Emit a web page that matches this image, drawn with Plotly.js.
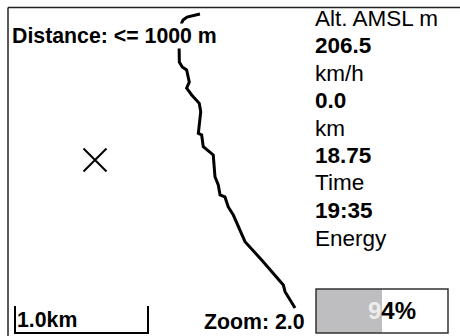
<!DOCTYPE html>
<html>
<head>
<meta charset="utf-8">
<script src="https://cdn.plot.ly/plotly-3.0.1.min.js"></script>
<style>html,body{margin:0;padding:0;background:#fff}#chart{width:460px;height:336px}</style>
</head>
<body>
<div id="chart"></div>
<script>
// Flight track, km east / km north relative to the X marker
const trackX = [0.789, 0.692, 0.662, 0.639, 0.632, 0.632, 0.634, 0.656, 0.689, 0.709, 0.689, 0.727, 0.765, 0.784, 0.795, 0.777, 0.802, 0.814, 0.889, 0.902, 0.927, 0.940, 0.977, 1.002, 1.040, 1.128, 1.253, 1.416, 1.429, 1.504];
const trackY = [1.098, 1.075, 1.053, 1.000, 0.902, 0.812, 0.737, 0.699, 0.677, 0.586, 0.541, 0.489, 0.451, 0.426, 0.363, 0.201, 0.188, 0.100, 0.038, -0.126, -0.188, -0.263, -0.278, -0.353, -0.414, -0.614, -0.752, -0.940, -0.990, -1.113];
const targetX = [0];
const targetY = [0];
const scaleBarKm = 1.0;
const scaleLabel = "1.0km";
const distanceLabel = "Distance: &lt;= 1000 m";
const zoomLabel = "Zoom: 2.0";
const infoLabels = ["Alt. AMSL m", "km/h", "km", "Time", "Energy"];
const infoValues = ["206.5", "0.0", "18.75", "19:35"];
const energyFill = [50];
const energyText = ["9", "4%"];

const W = 460, H = 336, PXKM = 133, OX = 95, OY = 160;
const kx = p => (p - OX) / PXKM;
const ky = p => (OY - p) / PXKM;
const px = p => p / W;
const py = p => 1 - p / H;

const sx0 = kx(15), sTop = ky(306), sBot = ky(333);

const traces = [
  {type: 'scatter', mode: 'lines', x: trackX, y: trackY,
   line: {color: '#000', width: 3}, hoverinfo: 'skip'},
  {type: 'scatter', mode: 'markers', x: targetX, y: targetY,
   marker: {symbol: 'x-thin', size: 23, color: '#000', line: {color: '#000', width: 2}}, hoverinfo: 'skip'},
  {type: 'scatter', mode: 'lines',
   x: [sx0, sx0, sx0 + scaleBarKm, sx0 + scaleBarKm], y: [sTop, sBot, sBot, sTop],
   line: {color: '#000', width: 2}, hoverinfo: 'skip'},
  {type: 'bar', orientation: 'h', x: energyFill, y: [0], width: 1, xaxis: 'x2', yaxis: 'y2',
   marker: {color: '#bebec0', line: {width: 0}}, hoverinfo: 'skip'}
];

const F = 'Liberation Sans, Arial, Helvetica, sans-serif';
const ann = [];
ann.push({xref: 'paper', yref: 'paper', x: px(11), y: py(36), xanchor: 'left', yanchor: 'middle',
  text: '<b>' + distanceLabel + '</b>', showarrow: false, bgcolor: '#fff', borderpad: 0,
  font: {family: F, size: 21.3, color: '#000'}});
ann.push({xref: 'paper', yref: 'paper', x: px(16), y: py(320), xanchor: 'left', yanchor: 'middle',
  text: '<b>' + scaleLabel + '</b>', showarrow: false, borderpad: 0,
  font: {family: F, size: 21.3, color: '#000'}});
ann.push({xref: 'paper', yref: 'paper', x: px(306), y: py(322), xanchor: 'right', yanchor: 'middle',
  text: '<b>' + zoomLabel + '</b>', showarrow: false, borderpad: 0,
  font: {family: F, size: 21.3, color: '#000'}});
const rowStep = 27.5, row0 = 18;
for (let i = 0; i < infoLabels.length; i++) {
  ann.push({xref: 'paper', yref: 'paper', x: px(314), y: py(row0 + 2 * i * rowStep), xanchor: 'left', yanchor: 'middle',
    text: infoLabels[i], showarrow: false, borderpad: 0,
    font: {family: F, size: 22.5, color: '#000'}});
  if (i < infoValues.length) {
    ann.push({xref: 'paper', yref: 'paper', x: px(314), y: py(row0 + (2 * i + 1) * rowStep), xanchor: 'left', yanchor: 'middle',
      text: '<b>' + infoValues[i] + '</b>', showarrow: false, borderpad: 0,
      font: {family: F, size: 22.5, color: '#000'}});
  }
}
ann.push({xref: 'paper', yref: 'paper', x: px(367), y: py(310), xanchor: 'left', yanchor: 'middle',
  text: '<b><span style="color:#ededed">' + energyText[0] + '</span>' + energyText[1] + '</b>', showarrow: false, borderpad: 0,
  font: {family: F, size: 24, color: '#000'}});

const layout = {
  width: W, height: H, margin: {l: 0, r: 0, t: 0, b: 0, pad: 0},
  paper_bgcolor: '#fff', plot_bgcolor: '#fff', showlegend: false,
  xaxis: {range: [kx(0), kx(W)], visible: false, fixedrange: true},
  yaxis: {range: [ky(H), ky(0)], visible: false, fixedrange: true},
  xaxis2: {domain: [316 / W, 448 / W], range: [0, 100], anchor: 'y2', visible: false, fixedrange: true},
  yaxis2: {domain: [3 / H, 47 / H], range: [-0.5, 0.5], anchor: 'x2', visible: false, fixedrange: true},
  shapes: [
    {type: 'line', xref: 'paper', yref: 'paper', x0: px(8), x1: 1, y0: py(7.5), y1: py(7.5), line: {color: '#222', width: 1.5}},
    {type: 'line', xref: 'paper', yref: 'paper', x0: px(8), x1: px(8), y0: py(7.5), y1: 0, line: {color: '#222', width: 1.5}},
    {type: 'rect', xref: 'x2 domain', yref: 'y2 domain', x0: 0, x1: 1, y0: 0, y1: 1, line: {color: '#333', width: 1.5}}
  ],
  annotations: ann
};

Plotly.newPlot('chart', traces, layout, {staticPlot: true, displayModeBar: false});
</script>
</body>
</html>
